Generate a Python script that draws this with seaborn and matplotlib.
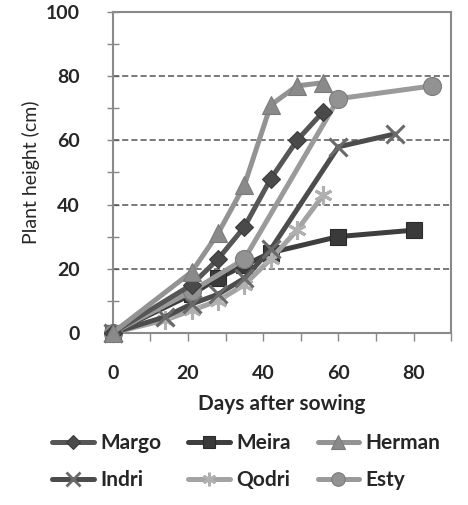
import matplotlib
matplotlib.use("Agg")
import matplotlib.pyplot as plt
from matplotlib.lines import Line2D
from matplotlib.ticker import MultipleLocator
import seaborn as sns
import pandas as pd

# ---- data ----
margo_days = [0, 21, 28, 35, 42, 49, 56]
margo_h = [0, 15, 23, 33, 48, 60, 69]
meira_days = [0, 21, 28, 35, 42, 60, 80]
meira_h = [0, 12, 17, 21, 25, 30, 32]
herman_days = [0, 21, 28, 35, 42, 49, 56]
herman_h = [0, 19, 31, 46, 71, 77, 78]
indri_days = [0, 14, 21, 28, 35, 42, 60, 75]
indri_h = [0, 5, 9, 12, 17, 26, 58, 62]
qodri_days = [0, 14, 21, 28, 35, 42, 49, 56]
qodri_h = [0, 4, 7, 10, 15, 23, 32, 43]
esty_days = [0, 21, 35, 60, 85]
esty_h = [0, 13, 23, 73, 77]

varieties = ["Margo", "Meira", "Herman", "Indri", "Qodri", "Esty"]
xticks = [0, 20, 40, 60, 80]
yticks = [0, 20, 40, 60, 80, 100]

series = {
    "Margo": (margo_days, margo_h),
    "Meira": (meira_days, meira_h),
    "Herman": (herman_days, herman_h),
    "Indri": (indri_days, indri_h),
    "Qodri": (qodri_days, qodri_h),
    "Esty": (esty_days, esty_h),
}

styles = {
    "Margo": dict(color="#565656", marker="D", ms=9, mec="#3c3c3c", mfc="#4a4a4a"),
    "Meira": dict(color="#3e3e3e", marker="s", ms=12, mec="#2a2a2a", mfc="#3a3a3a"),
    "Herman": dict(color="#939393", marker="^", ms=13, mec="#7a7a7a", mfc="#8a8a8a"),
    "Indri": dict(color="#4c4c4c", marker="x", ms=13, mec="#6a6a6a", mfc="none"),
    "Qodri": dict(color="#a3a3a3", marker=(6, 2, 0), ms=13, mec="#b0b0b0", mfc="none"),
    "Esty": dict(color="#9a9a9a", marker="o", ms=13, mec="#7c7c7c", mfc="#929292"),
}

sns.set_theme(style="white")
plt.rcParams["font.family"] = ["Lato", "DejaVu Sans"]

fig = plt.figure(figsize=(4.68, 5.05), dpi=100)
ax = fig.add_axes([0.241, 0.341, 0.723, 0.635])

order = ["Meira", "Qodri", "Indri", "Esty", "Margo", "Herman"]
for z, name in enumerate(order):
    d, h = series[name]
    df = pd.DataFrame({"Days": d, "Height": h})
    st = styles[name]
    sns.lineplot(data=df, x="Days", y="Height", ax=ax, sort=False, estimator=None,
                 color=st["color"], linewidth=3.6, marker=st["marker"],
                 markersize=st["ms"], markeredgecolor=st["mec"],
                 markerfacecolor=st["mfc"], markeredgewidth=2.2 if st["mfc"] == "none" else 0.8,
                 clip_on=False, zorder=3 + z * 0.1)

ax.set_xlim(0, 90)
ax.set_ylim(0, 100)
ax.set_xticks(xticks)
ax.set_yticks(yticks)
ax.xaxis.set_minor_locator(MultipleLocator(10))
ax.yaxis.set_minor_locator(MultipleLocator(10))
ax.tick_params(axis="x", which="both", direction="out", length=6, width=1, color="#888888",
               bottom=True, labelsize=14, pad=17)
ax.tick_params(axis="y", which="both", direction="inout", length=8, width=1, color="#888888",
               left=True, labelsize=14, pad=20)
for lbl in ax.get_xticklabels() + ax.get_yticklabels():
    lbl.set_fontweight("bold")

for yv in [20, 40, 60, 80]:
    ax.axhline(yv, color="#555555", lw=1.1, ls=(0, (4, 2)), zorder=1)

for s in ax.spines.values():
    s.set_color("#8a8a8a")
    s.set_linewidth(1.5)
    s.set_visible(True)

ax.set_xlabel("Days after sowing", fontsize=15, fontweight="bold", labelpad=9)
ax.set_ylabel("Plant height (cm)", fontsize=14, fontweight="normal", labelpad=4)

handles = []
for name in varieties:
    st = styles[name]
    handles.append(Line2D([], [], color=st["color"], lw=3.6, marker=st["marker"],
                          ms=st["ms"] * 0.75, mec=st["mec"], mfc=st["mfc"],
                          mew=2 if st["mfc"] == "none" else 0.8))
# column-major fill -> reorder so rows read Margo, Meira, Herman / Indri, Qodri, Esty
idx = [0, 3, 1, 4, 2, 5]
fig.legend([handles[i] for i in idx], [varieties[i] for i in idx], loc="center",
           bbox_to_anchor=(0.526, 0.086), ncol=3, frameon=False,
           prop={"size": 15, "weight": "bold"}, handlelength=2.0,
           columnspacing=1.3, handletextpad=0.3, labelspacing=0.8)

fig.savefig("out.png", dpi=100)
